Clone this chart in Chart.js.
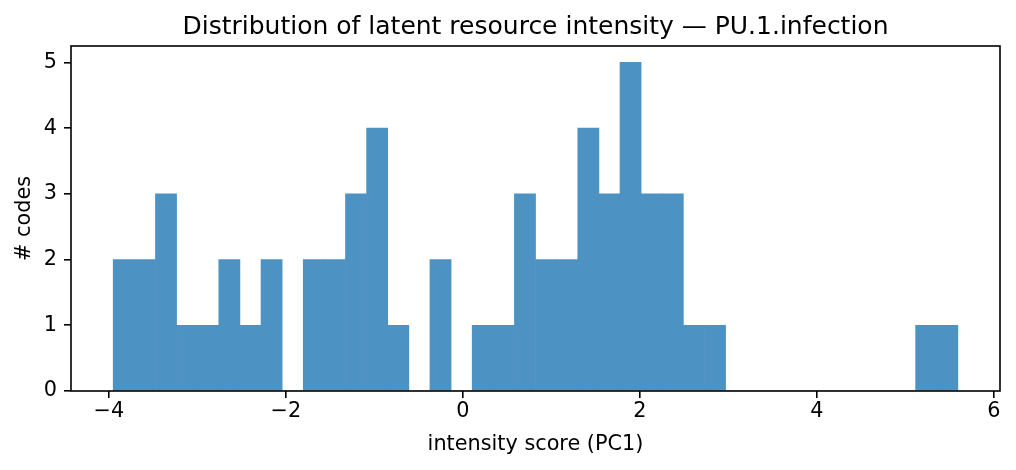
<!DOCTYPE html>
<html>
<head>
<meta charset="utf-8">
<script src="https://cdn.jsdelivr.net/npm/chart.js@4"></script>
<style>
  html, body { margin: 0; padding: 0; background: #fff; }
  canvas { display: block; }
</style>
</head>
<body>
<canvas id="hist" width="1016" height="470"></canvas>
<script>
// bin centres (width ~0.2386) and counts
const binCenters = [-3.8307, -3.5921, -3.3535, -3.1149, -2.8763, -2.6377, -2.3991, -2.1605, -1.9219, -1.6833,
  -1.4447, -1.2061, -0.9675, -0.7289, -0.4903, -0.2517, -0.0131, 0.2255, 0.4641, 0.7027,
  0.9413, 1.1799, 1.4185, 1.6571, 1.8957, 2.1343, 2.3729, 2.6115, 2.8501, 3.0887,
  3.3273, 3.5659, 3.8045, 4.0431, 4.2817, 4.5203, 4.7589, 4.9975, 5.2361, 5.4747];
const counts = [2, 2, 3, 1, 1, 2, 1, 2, 0, 2,
  2, 3, 4, 1, 0, 2, 0, 1, 1, 3,
  2, 2, 4, 3, 5, 3, 3, 1, 1, 0,
  0, 0, 0, 0, 0, 0, 0, 0, 1, 1];
const xTicks = [-4, -2, 0, 2, 4, 6];
const yTicks = [0, 1, 2, 3, 4, 5];

const font = "'DejaVu Sans', sans-serif";
const fmt = v => String(v).replace("-", "\u2212");

// matplotlib-style box round the axes
const spines = {
  id: "spines",
  afterDraw(chart) {
    const { ctx, chartArea: a } = chart;
    ctx.save();
    ctx.strokeStyle = "#000";
    ctx.lineWidth = 1.6;
    ctx.strokeRect(a.left, a.top, a.right - a.left, a.bottom - a.top);
    ctx.restore();
  }
};

const ctx = document.getElementById("hist").getContext("2d");
new Chart(ctx, {
  type: "bar",
  data: {
    datasets: [{
      data: binCenters.map((x, i) => ({ x, y: counts[i] })),
      backgroundColor: "rgb(76,146,195)",
      borderWidth: 0,
      barPercentage: 1,
      categoryPercentage: 1
    }]
  },
  options: {
    responsive: false,
    devicePixelRatio: 1,
    animation: false,
    layout: { padding: { left: 0, right: 16, top: 0, bottom: 0 } },
    plugins: {
      legend: { display: false },
      tooltip: { enabled: false },
      title: {
        display: true,
        fullSize: false,
        text: "Distribution of latent resource intensity \u2014 PU.1.infection",
        color: "#000",
        font: { family: font, size: 25, weight: "normal" },
        padding: { top: 12, bottom: 4 }
      }
    },
    scales: {
      x: {
        type: "linear",
        min: -4.427,
        max: 6.07,
        offset: false,
        afterBuildTicks: s => { s.ticks = xTicks.map(v => ({ value: v })); },
        afterFit: s => { s.height = 79; },
        grid: { display: true, offset: false, drawOnChartArea: false, tickLength: 7, color: "#000", lineWidth: 1.6 },
        border: { display: false },
        ticks: { color: "#000", font: { family: font, size: 20.8 }, padding: 1, callback: fmt, maxRotation: 0 },
        title: { display: true, text: "intensity score (PC1)", color: "#000", font: { family: font, size: 20.8 }, padding: { top: 4, bottom: 13 } }
      },
      y: {
        min: 0,
        max: 5.25,
        afterBuildTicks: s => { s.ticks = yTicks.map(v => ({ value: v })); },
        afterFit: s => { s.width = 71; },
        grid: { display: true, drawOnChartArea: false, tickLength: 7, color: "#000", lineWidth: 1.6 },
        border: { display: false },
        ticks: { color: "#000", font: { family: font, size: 20.8 }, padding: 7, callback: fmt },
        title: { display: true, text: "# codes", color: "#000", font: { family: font, size: 20.8 }, padding: { top: 12, bottom: 4 } }
      }
    }
  },
  plugins: [spines]
});
</script>
</body>
</html>
